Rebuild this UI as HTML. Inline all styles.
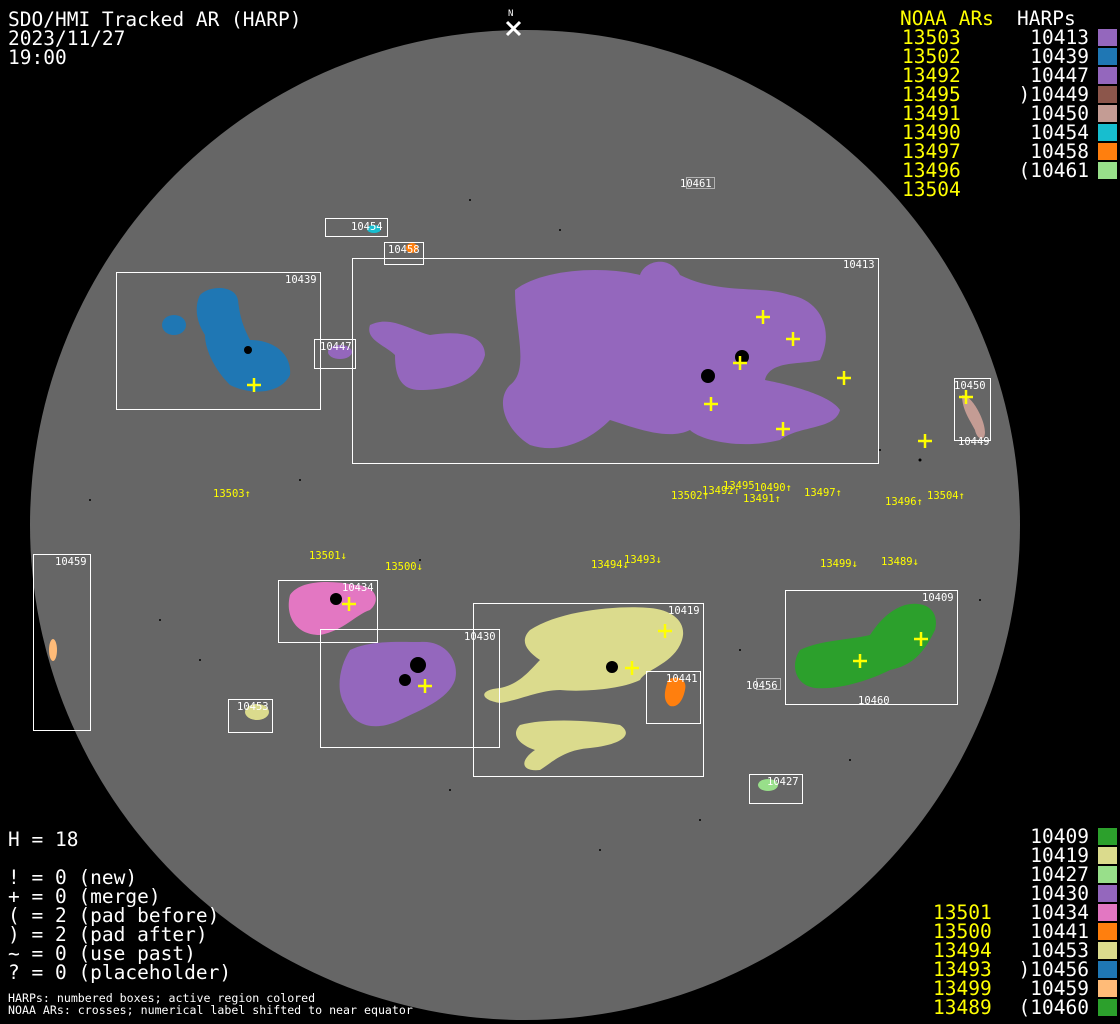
<!DOCTYPE html>
<html><head><style>
html,body{margin:0;padding:0;background:#000;}
svg{display:block}
text{font-family:"DejaVu Sans Mono","Liberation Mono",monospace;}
</style></head><body>
<svg width="1120" height="1024" viewBox="0 0 1120 1024" xmlns="http://www.w3.org/2000/svg">
<rect width="1120" height="1024" fill="#000"/>
<circle cx="525" cy="525" r="495" fill="#666"/>
<!-- black speckles -->
<g fill="#000">
<circle cx="470" cy="200" r="1"/><circle cx="560" cy="230" r="1"/><circle cx="620" cy="320" r="1"/><circle cx="300" cy="480" r="1"/><circle cx="880" cy="450" r="1"/><circle cx="920" cy="460" r="1.5"/><circle cx="700" cy="820" r="1"/><circle cx="600" cy="850" r="1"/><circle cx="200" cy="660" r="1"/><circle cx="160" cy="620" r="1"/><circle cx="420" cy="560" r="1"/><circle cx="740" cy="650" r="1"/><circle cx="980" cy="600" r="1"/><circle cx="850" cy="760" r="1"/><circle cx="450" cy="790" r="1"/><circle cx="90" cy="500" r="1"/>
</g>
<!-- 10413 purple big -->
<g fill="#9467bd">
<path d="M515 290 C540 270 600 265 640 275 C645 260 670 255 680 275 C720 295 760 285 790 295 C820 300 835 330 820 360 C800 365 770 360 765 380 C790 385 830 395 840 410 C835 430 800 425 780 440 C740 450 700 440 690 430 C670 440 640 430 610 420 C590 440 560 455 530 445 C505 430 495 400 510 385 C530 370 515 330 515 290 Z"/>
<path d="M370 325 C390 315 410 330 430 335 C460 330 485 335 485 355 C480 375 460 390 420 390 C400 390 395 375 395 355 C385 345 365 340 370 325 Z"/>
<ellipse cx="340" cy="352" rx="12" ry="7"/>
</g>
<g fill="#000"><circle cx="708" cy="376" r="7"/><circle cx="742" cy="357" r="7"/></g>
<!-- 10439 blue -->
<g fill="#1f77b4">
<path d="M200 295 C210 285 235 285 238 300 C240 320 245 330 250 340 C275 340 292 355 290 375 C280 395 250 395 230 385 C215 370 205 350 205 335 C195 320 195 305 200 295 Z"/>
<ellipse cx="174" cy="325" rx="12" ry="10"/>
</g>
<circle cx="248" cy="350" r="4" fill="#000"/>
<!-- 10450 tan, 10449 brown -->
<path d="M962 395 C972 395 985 420 985 432 C985 442 977 440 975 430 C970 420 962 410 962 395 Z" fill="#c49c94"/>
<!-- 10454 cyan, 10458 orange -->
<ellipse cx="374" cy="229" rx="7" ry="4" fill="#17becf"/>
<ellipse cx="412" cy="248" rx="6" ry="5" fill="#ff7f0e"/>
<!-- 10434 pink -->
<path d="M290 595 C300 580 330 580 355 585 C375 585 382 600 370 610 C355 615 345 630 320 635 C295 635 285 615 290 595 Z" fill="#e377c2"/>
<circle cx="336" cy="599" r="6" fill="#000"/>
<!-- 10430 purple -->
<path d="M350 650 C370 640 400 642 420 642 C445 640 460 660 455 680 C448 700 420 710 400 720 C380 730 355 730 345 705 C335 690 340 665 350 650 Z" fill="#9467bd"/>
<g fill="#000"><circle cx="418" cy="665" r="8"/><circle cx="405" cy="680" r="6"/></g>
<!-- 10419 khaki -->
<g fill="#dbdb8d">
<path d="M530 630 C560 610 620 605 650 608 C675 610 690 625 680 645 C670 665 645 670 640 680 C620 690 580 692 560 690 C540 690 520 700 500 703 C480 700 478 690 500 688 C520 684 530 670 540 660 C525 650 520 640 530 630 Z"/>
<path d="M520 725 C545 718 590 720 620 725 C635 735 620 745 590 748 C565 750 555 760 540 770 C520 772 520 760 535 750 C520 745 510 735 520 725 Z"/>
<ellipse cx="257" cy="712" rx="12" ry="8"/>
</g>
<circle cx="612" cy="667" r="6" fill="#000"/>
<!-- 10441 orange -->
<path d="M668 680 C675 675 688 678 685 690 C683 700 678 708 670 706 C662 700 665 690 668 680 Z" fill="#ff7f0e"/>
<!-- 10409 green -->
<path d="M800 650 C820 640 850 640 870 635 C880 620 890 610 905 605 C925 600 940 610 935 630 C925 650 915 665 890 670 C870 680 840 690 815 688 C795 685 790 665 800 650 Z" fill="#2ca02c"/>
<!-- 10427 light green -->
<ellipse cx="768" cy="785" rx="10" ry="6" fill="#98df8a"/>
<!-- 10459 light orange -->
<ellipse cx="53" cy="650" rx="4" ry="11" fill="#ffbb78"/>
<!-- boxes -->
<g fill="none" stroke="#fff" stroke-width="1">
<rect x="352.5" y="258.5" width="526" height="205"/>
<rect x="116.5" y="272.5" width="204" height="137"/>
<rect x="314.5" y="339.5" width="41" height="29"/>
<rect x="325.5" y="218.5" width="62" height="18"/>
<rect x="384.5" y="242.5" width="39" height="22"/>
<rect x="954.5" y="378.5" width="36" height="62"/>
<rect x="33.5" y="554.5" width="57" height="176"/>
<rect x="278.5" y="580.5" width="99" height="62"/>
<rect x="320.5" y="629.5" width="179" height="118"/>
<rect x="473.5" y="603.5" width="230" height="173"/>
<rect x="646.5" y="671.5" width="54" height="52"/>
<rect x="785.5" y="590.5" width="172" height="114"/>
<rect x="228.5" y="699.5" width="44" height="33"/>
<rect x="749.5" y="774.5" width="53" height="29"/>
</g>
<g fill="none" stroke="#fff" stroke-dasharray="1,1"><rect x="686.5" y="177.5" width="28" height="11"/><rect x="756.5" y="678.5" width="24" height="11"/></g>
<!-- box labels -->
<g fill="#fff" font-size="10.5">
<text x="843" y="268">10413</text><text x="285" y="283">10439</text><text x="320" y="350">10447</text><text x="351" y="230">10454</text><text x="388" y="253">10458</text>
<text x="954" y="389">10450</text><text x="958" y="445">10449</text><text x="55" y="565">10459</text><text x="342" y="591">10434</text><text x="464" y="640">10430</text>
<text x="668" y="614">10419</text><text x="666" y="682">10441</text><text x="922" y="601">10409</text><text x="237" y="710">10453</text><text x="767" y="785">10427</text>
<text x="680" y="187">10461</text><text x="746" y="689">10456</text><text x="858" y="704">10460</text>
</g>
<!-- crosses -->
<g stroke="#ff0" stroke-width="2.5">
<path d="M763 310v14M756 317h14"/><path d="M793 332v14M786 339h14"/><path d="M740 356v14M733 363h14"/><path d="M844 371v14M837 378h14"/><path d="M711 397v14M704 404h14"/><path d="M783 422v14M776 429h14"/><path d="M925 434v14M918 441h14"/><path d="M966 390v14M959 397h14"/><path d="M254 378v14M247 385h14"/>
<path d="M349 597v14M342 604h14"/><path d="M425 679v14M418 686h14"/><path d="M665 624v14M658 631h14"/><path d="M632 661v14M625 668h14"/><path d="M860 654v14M853 661h14"/><path d="M921 632v14M914 639h14"/>
</g>
<!-- NOAA labels -->
<g fill="#ff0" font-size="10.5">
<text x="213" y="497">13503↑</text><text x="671" y="499">13502↑</text><text x="702" y="494">13492↑</text><text x="723" y="489">13495</text><text x="754" y="491">10490↑</text><text x="743" y="502">13491↑</text><text x="804" y="496">13497↑</text><text x="885" y="505">13496↑</text><text x="927" y="499">13504↑</text>
<text x="309" y="559">13501↓</text><text x="385" y="570">13500↓</text><text x="591" y="568">13494↓</text><text x="624" y="563">13493↓</text><text x="820" y="567">13499↓</text><text x="881" y="565">13489↓</text>
</g>
<!-- N marker -->
<text x="508" y="16" fill="#fff" font-size="9">N</text>
<path d="M507 22l13 13M520 22l-13 13" stroke="#fff" stroke-width="3"/>
<!-- title -->
<g fill="#fff" font-size="19.5">
<text x="8" y="26">SDO/HMI Tracked AR (HARP)</text><text x="8" y="45">2023/11/27</text><text x="8" y="64">19:00</text>
<text x="8" y="846">H = 18</text>
<text x="8" y="884">! = 0 (new)</text><text x="8" y="903">+ = 0 (merge)</text><text x="8" y="922">( = 2 (pad before)</text><text x="8" y="941">) = 2 (pad after)</text><text x="8" y="960">~ = 0 (use past)</text><text x="8" y="979">? = 0 (placeholder)</text>
</g>
<g fill="#fff" font-size="11.6"><text x="8" y="1002">HARPs: numbered boxes; active region colored</text><text x="8" y="1014">NOAA ARs: crosses; numerical label shifted to near equator</text></g>
<!-- top right legend -->
<g font-size="19.5">
<text x="900" y="25" fill="#ff0">NOAA ARs</text><text x="1017" y="25" fill="#fff">HARPs</text>
<g fill="#ff0"><text x="902" y="44">13503</text><text x="902" y="63">13502</text><text x="902" y="82">13492</text><text x="902" y="101">13495</text><text x="902" y="120">13491</text><text x="902" y="139">13490</text><text x="902" y="158">13497</text><text x="902" y="177">13496</text><text x="902" y="196">13504</text></g>
<g fill="#fff" text-anchor="end"><text x="1089" y="44">10413</text><text x="1089" y="63">10439</text><text x="1089" y="82">10447</text><text x="1089" y="101">)10449</text><text x="1089" y="120">10450</text><text x="1089" y="139">10454</text><text x="1089" y="158">10458</text><text x="1089" y="177">(10461</text></g>
<g fill="#ff0"><text x="933" y="919">13501</text><text x="933" y="938">13500</text><text x="933" y="957">13494</text><text x="933" y="976">13493</text><text x="933" y="995">13499</text><text x="933" y="1014">13489</text></g>
<g fill="#fff" text-anchor="end"><text x="1089" y="843">10409</text><text x="1089" y="862">10419</text><text x="1089" y="881">10427</text><text x="1089" y="900">10430</text><text x="1089" y="919">10434</text><text x="1089" y="938">10441</text><text x="1089" y="957">10453</text><text x="1089" y="976">)10456</text><text x="1089" y="995">10459</text><text x="1089" y="1014">(10460</text></g>
</g>
<g>
<rect x="1098" y="29" width="19" height="17" fill="#9467bd"/><rect x="1098" y="48" width="19" height="17" fill="#1f77b4"/><rect x="1098" y="67" width="19" height="17" fill="#9467bd"/><rect x="1098" y="86" width="19" height="17" fill="#8c564b"/><rect x="1098" y="105" width="19" height="17" fill="#c49c94"/><rect x="1098" y="124" width="19" height="17" fill="#17becf"/><rect x="1098" y="143" width="19" height="17" fill="#ff7f0e"/><rect x="1098" y="162" width="19" height="17" fill="#98df8a"/>
<rect x="1098" y="828" width="19" height="17" fill="#2ca02c"/><rect x="1098" y="847" width="19" height="17" fill="#dbdb8d"/><rect x="1098" y="866" width="19" height="17" fill="#98df8a"/><rect x="1098" y="885" width="19" height="17" fill="#9467bd"/><rect x="1098" y="904" width="19" height="17" fill="#e377c2"/><rect x="1098" y="923" width="19" height="17" fill="#ff7f0e"/><rect x="1098" y="942" width="19" height="17" fill="#dbdb8d"/><rect x="1098" y="961" width="19" height="17" fill="#1f77b4"/><rect x="1098" y="980" width="19" height="17" fill="#ffbb78"/><rect x="1098" y="999" width="19" height="17" fill="#2ca02c"/>
</g>
</svg>
</body></html>
